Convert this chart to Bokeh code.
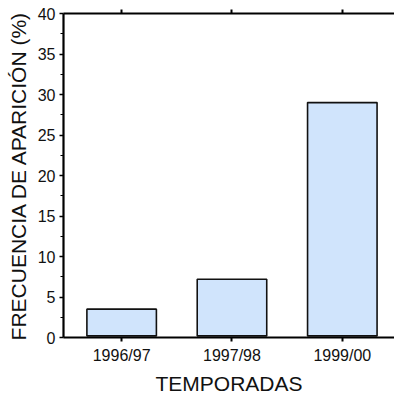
from bokeh.plotting import figure
from bokeh.models import LinearAxis, Range1d, FixedTicker, ColumnDataSource
from bokeh.embed import file_html
from bokeh.resources import INLINE

categories = ["1996/97", "1997/98", "1999/00"]
values = [3.5, 7.2, 29.0]
y_ticks = [0, 5, 10, 15, 20, 25, 30, 35, 40]

xs = list(range(len(categories)))
src = ColumnDataSource(dict(x=xs, top=values, cat=categories))

p = figure(width=394, height=400, output_backend="svg", toolbar_location=None,
           x_range=Range1d(-0.527, len(categories) - 1 + 0.473), y_range=Range1d(0, 40),
           x_axis_location="below", min_border_left=0, min_border_right=0,
           min_border_top=0, min_border_bottom=0)
p.outline_line_color = None
p.grid.visible = False
p.background_fill_color = "white"
p.border_fill_color = "white"

p.vbar(x="x", top="top", bottom=0.2, width=0.63, source=src,
       fill_color="#d0e4fc", line_color="#111111", line_width=1.6)

FONT = "Liberation Sans"
TXT = "#111111"

xa = p.xaxis[0]
xa.ticker = FixedTicker(ticks=xs)
xa.major_label_overrides = {i: c for i, c in zip(xs, categories)}
xa.axis_label = "TEMPORADAS"
xa.axis_label_text_font = FONT
xa.axis_label_text_font_size = "21px"
xa.axis_label_text_font_style = "normal"
xa.axis_label_text_color = TXT
xa.axis_label_standoff = 5
xa.major_label_text_font = FONT
xa.major_label_text_font_size = "16px"
xa.major_label_text_color = TXT
xa.major_label_standoff = 5
xa.axis_line_width = 2.2
xa.major_tick_line_width = 2
xa.major_tick_out = 4
xa.major_tick_in = 0
xa.minor_tick_out = 0
xa.minor_tick_in = 0

ya = p.yaxis[0]
ya.ticker = FixedTicker(ticks=y_ticks, minor_ticks=[2.5 + 5 * i for i in range(8)])
ya.axis_label = "FRECUENCIA DE APARICIÓN (%)"
ya.axis_label_text_font = FONT
ya.axis_label_text_font_size = "21px"
ya.axis_label_text_font_style = "normal"
ya.axis_label_text_color = TXT
ya.axis_label_standoff = 5
ya.major_label_text_font = FONT
ya.major_label_text_font_size = "16px"
ya.major_label_text_color = TXT
ya.major_label_standoff = 4
ya.axis_line_width = 2.2
ya.major_tick_line_width = 1.5
ya.major_tick_out = 4
ya.major_tick_in = 0
ya.minor_tick_out = 3
ya.minor_tick_in = 0
ya.minor_tick_line_width = 1.2

top = LinearAxis(ticker=FixedTicker(ticks=xs), major_label_overrides={i: "" for i in xs},
                 major_label_standoff=0, axis_line_width=2.2, major_tick_out=4,
                 major_tick_in=0, major_tick_line_width=2, minor_tick_out=0, minor_tick_in=0)
p.add_layout(top, "above")

p.min_border_top = 13
p.min_border_bottom = 63
p.min_border_left = 63

open("out.html", "w").write(file_html(p, INLINE))
